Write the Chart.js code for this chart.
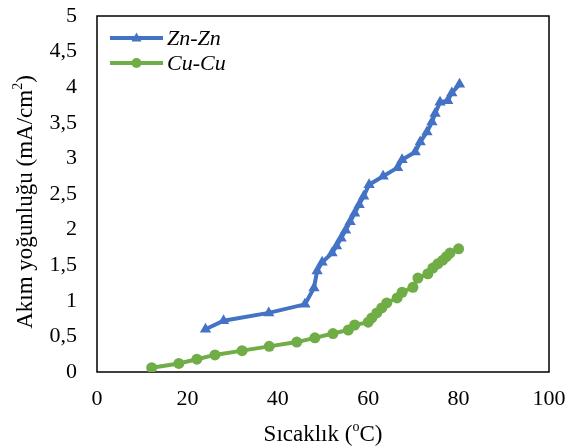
<!DOCTYPE html>
<html>
<head>
<meta charset="utf-8">
<script src="https://cdn.jsdelivr.net/npm/chart.js@4/dist/chart.umd.min.js"></script>
<style>
  html, body { margin: 0; padding: 0; background: #fff; }
  #wrap { width: 568px; height: 448px; position: relative; }
</style>
</head>
<body>
<div id="wrap"><canvas id="c"></canvas></div>
<script>
// Current density vs. temperature for two electrode pairs
const znLabel = 'Zn-Zn';
const znTemp = [24, 28, 38, 46, 48, 48.7, 49.8, 52, 53, 54, 55, 56, 57, 58, 59, 60.2, 63.3, 66.5, 67.5, 70.4, 71.5, 73, 74.1, 74.8, 75.9, 77.6, 78.5, 80.2];
const znCurrent = [0.60, 0.72, 0.83, 0.95, 1.18, 1.42, 1.54, 1.67, 1.77, 1.88, 1.99, 2.11, 2.23, 2.35, 2.47, 2.63, 2.75, 2.87, 2.98, 3.09, 3.23, 3.37, 3.51, 3.63, 3.79, 3.81, 3.92, 4.04];

const cuLabel = 'Cu-Cu';
const cuTemp = [12.1, 18.1, 22.1, 26.1, 32.1, 38.1, 44.2, 48.2, 52.2, 55.6, 57, 60, 60.8, 61.9, 63, 64.1, 66.4, 67.5, 69.9, 71, 73.2, 74.3, 75.4, 76.5, 77.3, 78.1, 80];
const cuCurrent = [0.06, 0.12, 0.18, 0.24, 0.30, 0.36, 0.42, 0.48, 0.54, 0.59, 0.66, 0.70, 0.76, 0.83, 0.90, 0.97, 1.04, 1.12, 1.19, 1.32, 1.38, 1.46, 1.52, 1.57, 1.62, 1.67, 1.73];

const xTicks = [0, 20, 40, 60, 80, 100];
const yTicks = [0, 0.5, 1, 1.5, 2, 2.5, 3, 3.5, 4, 4.5, 5];

const xTitle = ['Sıcaklık (', 'o', 'C)'];
const yTitle = ['Akım yoğunluğu (mA/cm', '2', ')'];

const BLUE = '#4472C4';
const GREEN = '#70AD47';
const SERIF = '"Liberation Serif", "Times New Roman", serif';

function pairs(xs, ys) { return xs.map((x, i) => ({ x: x, y: ys[i] })); }

// Draws a run of text pieces where the middle piece is a superscript
function drawSupText(ctx, parts, size, cx, cy) {
  const small = Math.round(size * 0.62);
  ctx.font = size + 'px ' + SERIF;
  const w0 = ctx.measureText(parts[0]).width;
  const w2 = ctx.measureText(parts[2]).width;
  ctx.font = small + 'px ' + SERIF;
  const w1 = ctx.measureText(parts[1]).width;
  let x = cx - (w0 + w1 + w2) / 2;
  ctx.textBaseline = 'middle';
  ctx.textAlign = 'left';
  ctx.font = size + 'px ' + SERIF;
  ctx.fillText(parts[0], x, cy);
  x += w0;
  ctx.font = small + 'px ' + SERIF;
  ctx.fillText(parts[1], x, cy - size * 0.32);
  x += w1;
  ctx.font = size + 'px ' + SERIF;
  ctx.fillText(parts[2], x, cy);
}

const framePlugin = {
  id: 'frame',
  beforeDatasetsDraw(chart) {
    const { ctx, chartArea: a } = chart;
    ctx.save();
    ctx.strokeStyle = '#000';
    ctx.lineWidth = 1.5;
    ctx.strokeRect(a.left, a.top, a.right - a.left, a.bottom - a.top);
    ctx.restore();
  },
  afterDraw(chart) {
    const { ctx, chartArea: a } = chart;
    ctx.save();
    ctx.fillStyle = '#000';
    // axis titles
    drawSupText(ctx, xTitle, 23, (a.left + a.right) / 2, 435);
    ctx.save();
    ctx.translate(26, (a.top + a.bottom) / 2 + 8);
    ctx.rotate(-Math.PI / 2);
    drawSupText(ctx, yTitle, 23, 0, 0);
    ctx.restore();

    // legend inside the plot area
    const items = chart.data.datasets;
    items.forEach((ds, i) => {
      const y = 38 + i * 25;
      const x0 = 110, x1 = 163;
      ctx.strokeStyle = ds.borderColor;
      ctx.lineWidth = 4;
      ctx.beginPath();
      ctx.moveTo(x0, y);
      ctx.lineTo(x1, y);
      ctx.stroke();
      ctx.fillStyle = ds.borderColor;
      const mx = (x0 + x1) / 2;
      if (ds.pointStyle === 'triangle') {
        ctx.beginPath();
        ctx.moveTo(mx, y - 5.5);
        ctx.lineTo(mx + 5, y + 3.5);
        ctx.lineTo(mx - 5, y + 3.5);
        ctx.closePath();
        ctx.fill();
      } else {
        ctx.beginPath();
        ctx.arc(mx, y, 5, 0, Math.PI * 2);
        ctx.fill();
      }
      ctx.fillStyle = '#000';
      ctx.font = 'italic 22px ' + SERIF;
      ctx.textAlign = 'left';
      ctx.textBaseline = 'middle';
      ctx.fillText(ds.label, 167, y + 1.5);
    });
    ctx.restore();
  }
};

new Chart(document.getElementById('c'), {
  type: 'scatter',
  data: {
    datasets: [
      {
        label: znLabel,
        data: pairs(znTemp, znCurrent),
        showLine: true,
        borderColor: BLUE,
        backgroundColor: BLUE,
        borderWidth: 4,
        pointStyle: 'triangle',
        pointRadius: 6.5,
        pointBorderWidth: 0,
        tension: 0
      },
      {
        label: cuLabel,
        data: pairs(cuTemp, cuCurrent),
        showLine: true,
        borderColor: GREEN,
        backgroundColor: GREEN,
        borderWidth: 4,
        pointStyle: 'circle',
        pointRadius: 5.5,
        pointBorderWidth: 0,
        tension: 0
      }
    ]
  },
  options: {
    responsive: true,
    maintainAspectRatio: false,
    animation: false,
    layout: { padding: { left: 0, right: 19, top: 16, bottom: 0 } },
    plugins: {
      legend: { display: false },
      tooltip: { enabled: false }
    },
    scales: {
      x: {
        type: 'linear',
        min: 0,
        max: 100,
        grid: { display: false, drawTicks: false },
        border: { display: false },
        afterBuildTicks(scale) { scale.ticks = xTicks.map(v => ({ value: v })); },
        afterFit(scale) {
          scale.height = 76;
          scale.paddingLeft = 0; scale.paddingRight = 0;
          scale.paddingTop = 0; scale.paddingBottom = 0;
        },
        ticks: {
          color: '#000',
          padding: 14,
          font: { family: SERIF, size: 22 },
          maxRotation: 0
        }
      },
      y: {
        type: 'linear',
        min: 0,
        max: 5,
        grid: { display: false, drawTicks: false },
        border: { display: false },
        afterBuildTicks(scale) { scale.ticks = yTicks.map(v => ({ value: v })); },
        afterFit(scale) {
          scale.width = 97;
          scale.paddingLeft = 0; scale.paddingRight = 0;
          scale.paddingTop = 0; scale.paddingBottom = 0;
        },
        ticks: {
          color: '#000',
          padding: 20,
          font: { family: SERIF, size: 22 },
          callback: v => String(v).replace('.', ',')
        }
      }
    }
  },
  plugins: [framePlugin]
});
</script>
</body>
</html>
